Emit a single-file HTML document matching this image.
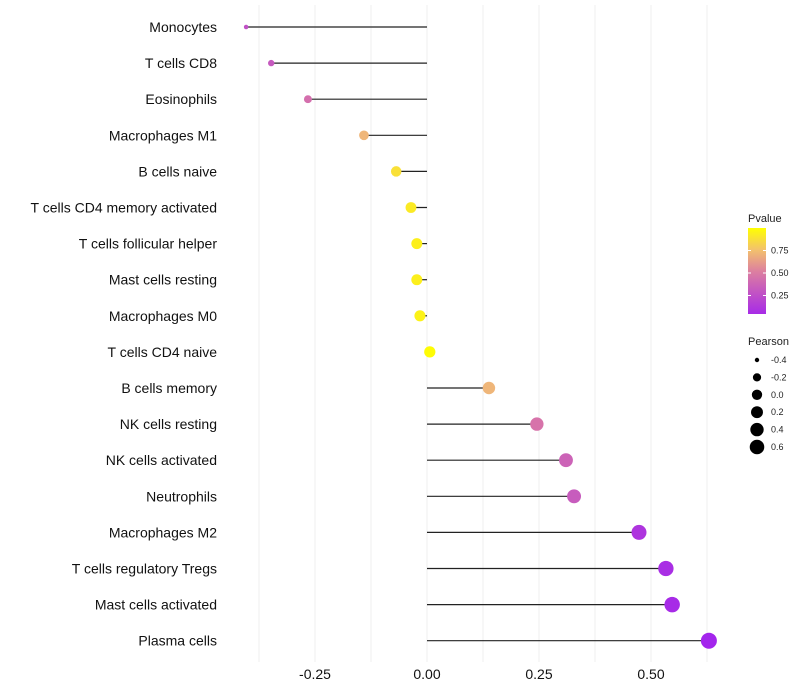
<!DOCTYPE html>
<html><head><meta charset="utf-8"><style>
body{margin:0;background:#fff;}
svg{display:block;font-family:"Liberation Sans",sans-serif;}
</style></head><body>
<svg id="chart" width="800" height="700"></svg>
<script>
const categories=["Monocytes","T cells CD8","Eosinophils","Macrophages M1","B cells naive","T cells CD4 memory activated","T cells follicular helper","Mast cells resting","Macrophages M0","T cells CD4 naive","B cells memory","NK cells resting","NK cells activated","Neutrophils","Macrophages M2","T cells regulatory  Tregs ","Mast cells activated","Plasma cells"];
const pearson=[-0.406,-0.35,-0.268,-0.143,-0.071,-0.038,-0.025,-0.025,-0.018,0.004,0.136,0.243,0.308,0.326,0.471,0.531,0.545,0.627];
const pvalues=[0.28,0.33,0.45,0.72,0.88,0.92,0.94,0.94,0.95,0.99,0.72,0.47,0.38,0.34,0.12,0.08,0.06,0.03];
const xTicks=[-0.25,0,0.25,0.5];
const xTickLabels=["-0.25","0.00","0.25","0.50"];
const gridVals=[-0.375,-0.25,-0.125,0,0.125,0.25,0.375,0.5,0.625];
const legendP=[0.25,0.5,0.75];
const legendPearson=[-0.4,-0.2,0,0.2,0.4,0.6];

const NS="http://www.w3.org/2000/svg";
const svg=document.getElementById('chart');
const X=v=>427+v*448;
const Y=i=>27+i*36.1;
const R=v=>1.5+6.5*Math.sqrt(Math.max(0,(v+0.42)/1.05));
function lerp(a,b,t){return a.map((x,k)=>Math.round(x+(b[k]-x)*t));}
const stops=[[0,[160,32,240]],[0.5,[218,120,165]],[0.75,[242,190,115]],[1,[255,255,0]]];
function col(p){for(let k=1;k<stops.length;k++){if(p<=stops[k][0]){const a=stops[k-1],b=stops[k];return `rgb(${lerp(a[1],b[1],(p-a[0])/(b[0]-a[0]))})`;}}return 'rgb(255,255,0)';}
function mk(t,a){const e=document.createElementNS(NS,t);for(const k in a)e.setAttribute(k,a[k]);svg.appendChild(e);return e;}

gridVals.forEach(v=>{const l=mk('line',{x1:X(v),x2:X(v),y1:5,y2:662,stroke:'#efefef','stroke-width':1});

});
xTicks.forEach((v,i)=>{const t=mk('text',{x:X(v),y:679,'text-anchor':'middle','font-size':14,fill:'#111'});t.textContent=xTickLabels[i];

});
categories.forEach((c,i)=>{
 const t=mk('text',{x:217,y:Y(i)+5,'text-anchor':'end','font-size':14,fill:'#111'});t.textContent=c;
 
 
 const l=mk('line',{x1:X(0),x2:X(pearson[i]),y1:Y(i),y2:Y(i),stroke:'#222','stroke-width':1.2});
 
 
 const p=mk('circle',{cx:X(pearson[i])+1,cy:Y(i),r:R(pearson[i]),fill:col(pvalues[i])});
 
 
});
let t=mk('text',{x:748,y:222,'font-size':11,fill:'#222'});t.textContent='Pvalue';


const defs=mk('defs',{});const g=document.createElementNS(NS,'linearGradient');
g.setAttribute('id','pg');g.setAttribute('x1',0);g.setAttribute('x2',0);g.setAttribute('y1',1);g.setAttribute('y2',0);
[0,0.25,0.5,0.75,1].forEach(o=>{const p=0.06+o*0.94;const s=document.createElementNS(NS,'stop');s.setAttribute('offset',o);s.setAttribute('stop-color',col(p));g.appendChild(s);});
defs.appendChild(g);
const bar=mk('rect',{x:748,y:228,width:18,height:86,fill:'url(#pg)'});


const PY=p=>228+(1-p)*90;
legendP.forEach(p=>{mk('line',{x1:748,x2:751,y1:PY(p),y2:PY(p),stroke:'#fff'});mk('line',{x1:763,x2:766,y1:PY(p),y2:PY(p),stroke:'#fff'});
 const tt=mk('text',{x:771,y:PY(p)+3,'font-size':9,fill:'#222'});tt.textContent=p.toFixed(2);
 
 });
t=mk('text',{x:748,y:345,'font-size':11,fill:'#222'});t.textContent='Pearson';


legendPearson.forEach((v,i)=>{const y=360+i*17.4;
 const c=mk('circle',{cx:757,cy:y,r:R(v)*0.92,fill:'#000'});
 
 
 const tt=mk('text',{x:771,y:y+3,'font-size':9,fill:'#222'});tt.textContent=v.toFixed(1);
 
 });
</script>
</body></html>
